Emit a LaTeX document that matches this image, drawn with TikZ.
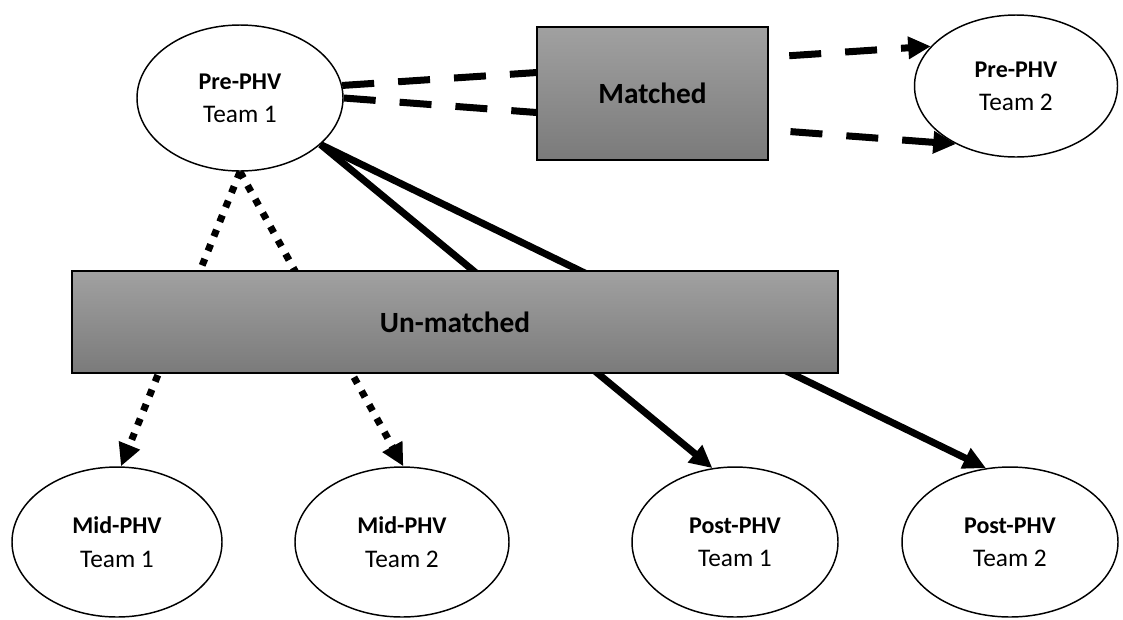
\documentclass[tikz,border=0pt]{standalone}
\usepackage{fontspec}
\setmainfont{Carlito}
\usetikzlibrary{shapes.geometric,arrows.meta}
\definecolor{boxtop}{gray}{0.63}
\definecolor{boxbottom}{gray}{0.48}
\newcommand{\phasename}[1]{{\bfseries\fontsize{18}{25}\selectfont #1}}
\begin{document}
\begin{tikzpicture}[x=0.75pt,y=-0.75pt,
  phase/.style={ellipse,draw=black,line width=1.1pt,fill=white,inner sep=0pt,
    align=center,font=\fontsize{19}{25}\selectfont},
  group/.style={rectangle,draw=black,line width=1.4pt,top color=boxtop,
    bottom color=boxbottom,inner sep=0pt,font=\bfseries\fontsize{22}{26}\selectfont},
  tip/.style={-{Triangle[length=17pt,width=16pt]}},
  matchedlink/.style={tip,line width=5.25pt,dash pattern=on 24pt off 18pt},
  unmatchedlink/.style={tip,line width=5.25pt},
  midlink/.style={tip,line width=5.25pt,dash pattern=on 5.25pt off 6.5pt}]
\useasboundingbox (0,0) rectangle (1123,619);

% phase groups
\node[phase,minimum width=154.5pt,minimum height=109.5pt] (pre1) at (240,98)
  {\phasename{Pre-PHV}\\Team 1};
\node[phase,minimum width=152.25pt,minimum height=106.5pt] (pre2) at (1016,86)
  {\phasename{Pre-PHV}\\Team 2};
\node[phase,minimum width=157.5pt,minimum height=112.5pt] (mid1) at (117,542)
  {\phasename{Mid-PHV}\\Team 1};
\node[phase,minimum width=160.5pt,minimum height=112.5pt] (mid2) at (402,542)
  {\phasename{Mid-PHV}\\Team 2};
\node[phase,minimum width=154.5pt,minimum height=112.5pt] (post1) at (735,542)
  {\phasename{Post-PHV}\\Team 1};
\node[phase,minimum width=162pt,minimum height=112.5pt] (post2) at (1010,542)
  {\phasename{Post-PHV}\\Team 2};

% comparisons (drawn beneath the labelled boxes)
\draw[matchedlink] (pre1.7) -- (pre2.155);
\draw[matchedlink] (pre1.east) -- (pre2.224);
\draw[midlink] (pre1.south) -- (mid1.87);
\draw[midlink] (pre1.south) -- (mid2.89);
\draw[unmatchedlink] (pre1.-30) -- (post1.107);
\draw[unmatchedlink] (pre1.-30) -- (post2.108);

% comparison type boxes
\node[group,minimum width=173.25pt,minimum height=99.75pt] (matched) at (652.5,93.5) {Matched};
\node[group,minimum width=574.5pt,minimum height=76.5pt] (unmatched) at (455,322) {Un-matched};
\end{tikzpicture}
\end{document}
